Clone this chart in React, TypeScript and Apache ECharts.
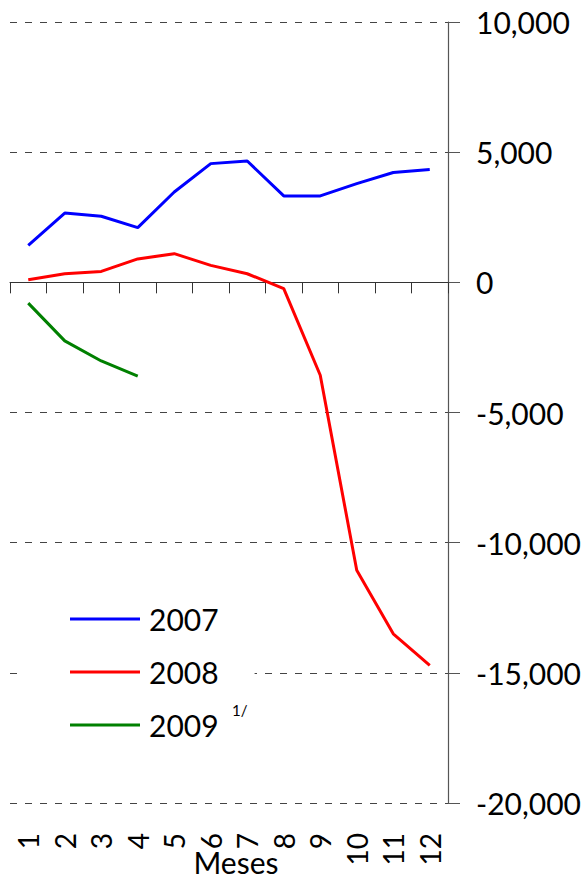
import React, { useEffect, useRef } from "react";
import * as echarts from "echarts";

const months = ["1", "2", "3", "4", "5", "6", "7", "8", "9", "10", "11", "12"];
const seriesNames = ["2007", "2008", "2009"];
const values2007 = [1420, 2660, 2540, 2100, 3470, 4560, 4660, 3320, 3320, 3790, 4220, 4330];
const values2008 = [100, 330, 420, 900, 1100, 650, 330, -240, -3570, -11060, -13500, -14710];
const values2009 = [-800, -2250, -3020, -3600];
const colors = ["#0000FF", "#FF0000", "#008000"];
const yMin = -20000;
const yMax = 10000;
const yStep = 5000;
const xTitle = "Meses";
const footnote = "1/";

const FONT = "Lato, 'Open Sans', sans-serif";

export default function App() {
  const ref = useRef<HTMLDivElement>(null);
  useEffect(() => {
    if (!ref.current) return;
    const chart = echarts.init(ref.current, null, { renderer: "svg" });
    const data = [values2007, values2008, values2009];
    chart.setOption({
      animation: false,
      backgroundColor: "#ffffff",
      grid: { left: 10, right: 140, top: 22, bottom: 78, containLabel: false },
      xAxis: [
        {
          type: "category",
          data: months,
          position: "bottom",
          boundaryGap: true,
          axisLine: { show: true, onZero: true, lineStyle: { color: "#333", width: 1 } },
          axisTick: { show: true, length: 11, alignWithLabel: false, lineStyle: { color: "#333" } },
          axisLabel: { show: false },
          splitLine: { show: false },
        },
        {
          type: "category",
          data: months,
          position: "bottom",
          boundaryGap: true,
          axisLine: { show: false, onZero: false },
          axisTick: { show: false },
          axisLabel: {
            show: true,
            rotate: 90,
            margin: 30,
            fontSize: 28,
            fontFamily: FONT,
            color: "#000",
            interval: 0,
          },
          splitLine: { show: false },
        },
      ],
      yAxis: {
        type: "value",
        position: "right",
        min: yMin,
        max: yMax,
        interval: yStep,
        axisLine: { show: true, onZero: false, lineStyle: { color: "#555", width: 1.2 } },
        axisTick: { show: true, length: 12, lineStyle: { color: "#555" } },
        axisLabel: {
          margin: 28,
          fontSize: 30,
          fontFamily: FONT,
          color: "#000",
          formatter: (v: number) => v.toLocaleString("en-US"),
        },
        splitLine: { show: true, lineStyle: { color: "#444", type: [7, 8], width: 1 } },
      },
      legend: {
        orient: "vertical",
        left: 25,
        top: 600,
        padding: [4, 36, 4, 45],
        backgroundColor: "#ffffff",
        itemWidth: 70,
        itemHeight: 3,
        itemGap: 23,
        icon: "rect",
        data: seriesNames,
        textStyle: { fontSize: 30, fontFamily: FONT, color: "#000", padding: [0, 0, 0, 4] },
      },
      graphic: [
        {
          type: "text",
          left: 232,
          top: 702,
          z: 100,
          style: { text: footnote, fontSize: 15, fontFamily: FONT, fill: "#000" },
        },
        {
          type: "text",
          x: 236,
          y: 847,
          z: 100,
          style: {
            text: xTitle,
            fontSize: 30,
            lineHeight: 30,
            fontFamily: FONT,
            fill: "#000",
            textAlign: "center",
            textVerticalAlign: "top",
          },
        },
      ],
      series: seriesNames.map((name, i) => ({
        name,
        type: "line",
        data: data[i],
        xAxisIndex: 0,
        symbol: "none",
        showSymbol: false,
        color: colors[i],
        lineStyle: { color: colors[i], width: 3 },
        z: 3,
      })),
    });
    return () => chart.dispose();
  }, []);
  return (
    <div
      ref={ref}
      style={{ position: "absolute", left: 0, top: 0, width: 588, height: 881 }}
    />
  );
}
